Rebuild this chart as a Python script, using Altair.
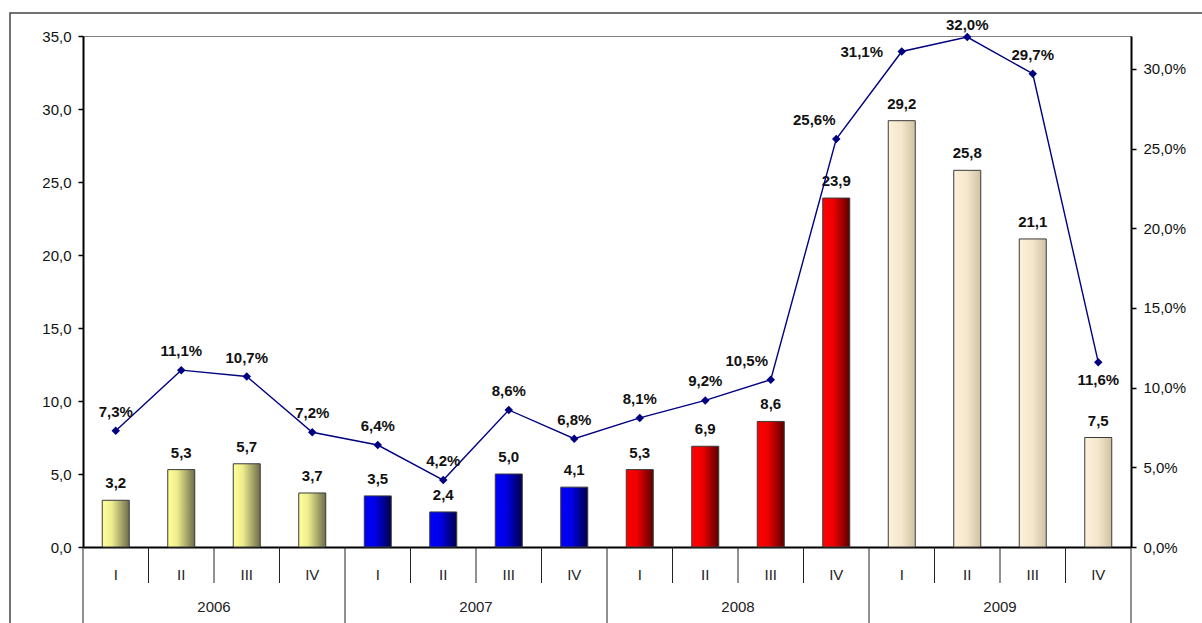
import altair as alt
import pandas as pd

years = ["2006", "2007", "2008", "2009"]
quarters = ["I", "II", "III", "IV"]
values = [3.2, 5.3, 5.7, 3.7, 3.5, 2.4, 5.0, 4.1, 5.3, 6.9, 8.6, 23.9, 29.2, 25.8, 21.1, 7.5]
shares = [7.3, 11.1, 10.7, 7.2, 6.4, 4.2, 8.6, 6.8, 8.1, 9.2, 10.5, 25.6, 31.1, 32.0, 29.7, 11.6]

rows = []
for i, (v, s) in enumerate(zip(values, shares)):
    rows.append({"idx": i, "year": years[i // 4], "quarter": quarters[i % 4],
                 "pos": i + 0.5, "value": v, "share": s})
df = pd.DataFrame(rows)

n = len(values)
bounds = pd.DataFrame({"k": list(range(n + 1))})
bounds["is_year"] = bounds["k"] % 4 == 0
year_df = pd.DataFrame({"year": years, "pos": [4 * j + 2 for j in range(len(years))]})

W, H = 1048, 511
FONT = "Liberation Sans"
FS = 15

x_scale = alt.Scale(domain=[0, n], nice=False, zero=False, padding=0)
x_enc = alt.X("pos:Q", scale=x_scale,
              axis=alt.Axis(labels=False, ticks=False, grid=False, title=None,
                            domainColor="black", domainWidth=2))

def grad(stops):
    return alt.LinearGradient(gradient="linear", x1=0, x2=1, y1=0, y2=0,
                              stops=[alt.GradientStop(offset=o, color=c) for o, c in stops])

gradients = {
    "2006": grad([(0, "#FFFF99"), (0.35, "#EDED8E"), (1, "#6E6C4C")]),
    "2007": grad([(0, "#0000FF"), (0.4, "#0000E6"), (1, "#00004A")]),
    "2008": grad([(0, "#FF0000"), (0.4, "#EE0000"), (1, "#5A0000")]),
    "2009": grad([(0, "#FCF1DA"), (0.5, "#F3E6CB"), (1, "#CFC2A4")]),
}

base = alt.Chart(df)

y_left = alt.Y("value:Q", scale=alt.Scale(domain=[0, 35], nice=False),
               axis=alt.Axis(values=[0, 5, 10, 15, 20, 25, 30, 35], grid=False, title=None,
                             domainColor="black", domainWidth=2, tickColor="black",
                             tickSize=5, tickWidth=1.5, labelFont=FONT, labelFontSize=FS,
                             labelColor="#111", labelPadding=7,
                             labelExpr="replace(format(datum.value, '.1f'), '.', ',')"))

bar_layers = []
for y in years:
    bar_layers.append(
        base.transform_filter(alt.datum.year == y)
        .mark_bar(width=27, color=gradients[y], stroke="#3a3a3a", strokeWidth=1)
        .encode(x=x_enc, y=y_left)
    )
bar_labels = base.transform_calculate(
    lbl="replace(format(datum.value, '.1f'), '.', ',')"
).mark_text(font=FONT, fontSize=FS, fontWeight="bold", baseline="middle", dy=-17,
            color="#111").encode(x=x_enc, y=alt.Y("value:Q"), text="lbl:N")

bars_group = alt.layer(*bar_layers, bar_labels)

y_right_scale = alt.Scale(domain=[0, 32.07], nice=False)
y_right = alt.Y("share:Q", scale=y_right_scale,
                axis=alt.Axis(orient="right", values=[0, 5, 10, 15, 20, 25, 30], grid=False,
                              title=None, domainColor="black", domainWidth=2,
                              tickColor="black", tickSize=5, tickWidth=1.5,
                              labelFont=FONT, labelFontSize=FS, labelColor="#111",
                              labelPadding=7,
                              labelExpr="replace(format(datum.value, '.1f'), '.', ',') + '%'"))

line = base.mark_line(color="#000080", strokeWidth=1.4).encode(x=x_enc, y=y_right)
pts = base.mark_point(shape="diamond", filled=True, size=72, color="#000080", opacity=1).encode(
    x=x_enc, y=alt.Y("share:Q"))

share_lbl = base.transform_calculate(
    lbl="replace(format(datum.share, '.1f'), '.', ',') + '%'")

def share_text(filt, dx, dy):
    return share_lbl.transform_filter(filt).mark_text(
        font=FONT, fontSize=FS, fontWeight="bold", baseline="middle", dx=dx, dy=dy,
        color="#111").encode(x=x_enc, y=alt.Y("share:Q"), text="lbl:N")

special = [10, 11, 12, 13, 15]
lbl_main = share_text(f"indexof({special}, datum.idx) < 0", 0, -19)
lbl_10 = share_text("datum.idx == 10", -24, -19)
lbl_11 = share_text("datum.idx == 11", -22, -19)
lbl_12 = share_text("datum.idx == 12", -40, 1)
lbl_13 = share_text("datum.idx == 13", 0, -12)
lbl_15 = share_text("datum.idx == 15", 0, 18)

line_group = alt.layer(line, pts, lbl_main, lbl_10, lbl_11, lbl_12, lbl_13, lbl_15)

# category dividers and labels below the axis
q_rules = alt.Chart(bounds).transform_filter("!datum.is_year").mark_rule(
    color="#222", strokeWidth=1).encode(
    x=alt.X("k:Q", scale=x_scale), y=alt.value(H), y2=alt.value(H + 36))
y_rules = alt.Chart(bounds).transform_filter("datum.is_year").mark_rule(
    color="#222", strokeWidth=1).encode(
    x=alt.X("k:Q", scale=x_scale), y=alt.value(H), y2=alt.value(H + 90))
q_text = base.mark_text(font=FONT, fontSize=FS, color="#222", baseline="middle").encode(
    x=alt.X("pos:Q", scale=x_scale), y=alt.value(H + 28), text="quarter:N")
yr_text = alt.Chart(year_df).mark_text(font=FONT, fontSize=FS, color="#222",
                                       baseline="middle").encode(
    x=alt.X("pos:Q", scale=x_scale), y=alt.value(H + 60), text="year:N")

frame = alt.Chart(pd.DataFrame({"a": [0]})).mark_rect(
    fill=None, fillOpacity=0, stroke="#444", strokeWidth=1.5).encode(
    x=alt.value(-73), x2=alt.value(W + 90), y=alt.value(-23), y2=alt.value(H + 120))

deco = alt.layer(frame, q_rules, y_rules, q_text, yr_text)

chart = alt.layer(deco, bars_group, line_group).resolve_scale(y="independent").properties(
    width=W, height=H,
    autosize=alt.AutoSizeParams(type="none"),
    padding={"left": 83, "top": 36, "right": 71, "bottom": 76},
    background="white",
).configure_view(stroke="#808080", strokeWidth=1)

chart.save("out.html", embed_options={"renderer": "svg", "actions": False})
